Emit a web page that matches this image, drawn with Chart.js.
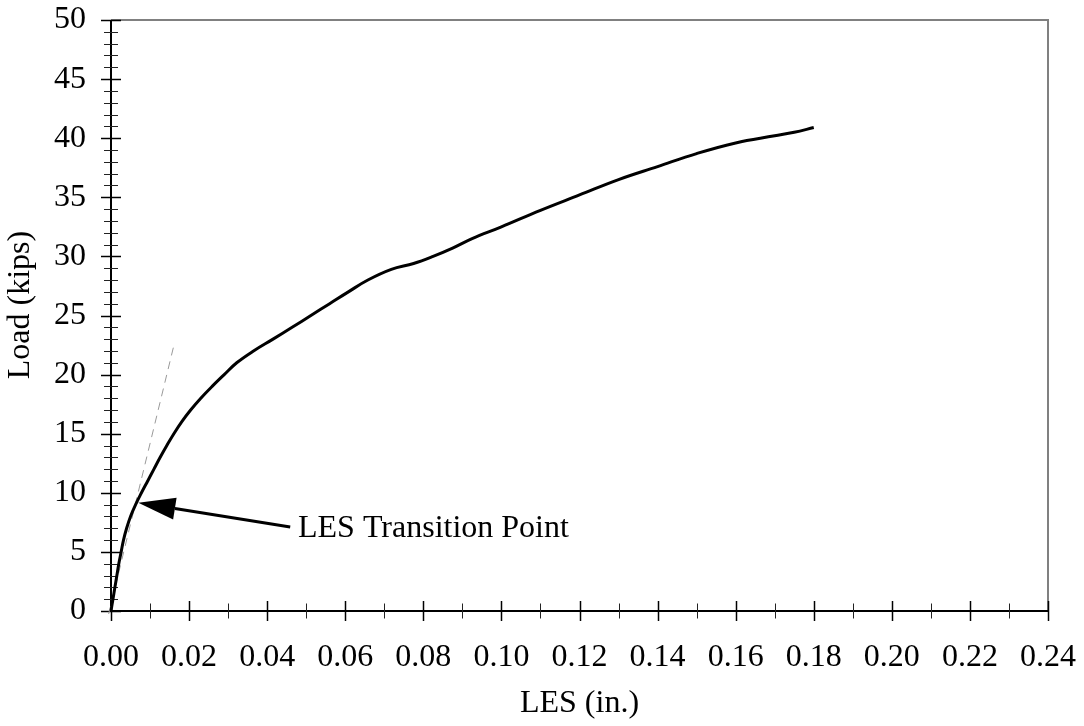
<!DOCTYPE html>
<html>
<head>
<meta charset="utf-8">
<script src="https://cdn.jsdelivr.net/npm/chart.js@4.4.1/dist/chart.umd.min.js"></script>
<style>
  html, body { margin: 0; padding: 0; background: #fff; }
  #wrap { width: 1084px; height: 726px; }
</style>
</head>
<body>
<div id="wrap"><canvas id="chart" width="1084" height="726"></canvas></div>
<script>
// ── Data ──────────────────────────────────────────────────────────────────────

// measured load–LES curve
const lesIn = [
  0, 0.0005, 0.0010, 0.0015, 0.0020, 0.0026, 0.0032, 0.0040, 0.0050, 0.0063,
  0.0078, 0.0094, 0.0110, 0.0126, 0.0143, 0.0161, 0.0181, 0.0204, 0.0230, 0.0259,
  0.0290, 0.0322, 0.0365, 0.0415, 0.0464, 0.0512, 0.0560, 0.0608, 0.0658, 0.0718,
  0.0775, 0.0825, 0.0875, 0.0925, 0.1000, 0.1100, 0.1200, 0.1300, 0.1400, 0.1500,
  0.1600, 0.1700, 0.1750, 0.1800
];
const loadKips = [
  0, 1, 2, 3, 4, 5, 6, 7, 8, 9,
  10, 11, 12, 13, 14, 15, 16, 17, 18, 19,
  20, 21, 22, 23, 24, 25, 26, 27, 28, 28.9,
  29.4, 30.0, 30.7, 31.5, 32.5, 33.9, 35.2, 36.5, 37.6, 38.7,
  39.6, 40.2, 40.5, 40.9
];

// initial elastic slope (dashed guide)
const elasticLes  = [-0.0006, 0.0162];
const elasticLoad = [-0.25, 22.6];

// axes
const xMin = 0, xMax = 0.24, xMajorStep = 0.02, xMinorStep = 0.01;
const yMin = 0, yMax = 50,   yMajorStep = 5,    yMinorStep = 1;

// annotation
const transitionTip   = { x: 0.0070, y: 9.16 };
const transitionTail  = { x: 0.0459, y: 7.1 };
const transitionLabel = { x: 0.0479, y: 6.26, text: 'LES Transition Point' };

const FONT = '"Liberation Serif", "Times New Roman", serif';
const FONT_SIZE = 32;

const toXY = (xs, ys) => xs.map((v, i) => ({ x: v, y: ys[i] }));

// ── Frame, ticks & annotation plugin ──────────────────────────────────────────

const frameTicks = {
  id: 'frameTicks',
  beforeDatasetsDraw(chart) {
    const { ctx, chartArea: a, scales: { x, y } } = chart;
    ctx.save();
    // top / right border
    ctx.strokeStyle = '#808080';
    ctx.lineWidth = 2;
    ctx.beginPath();
    ctx.moveTo(a.left, a.top);
    ctx.lineTo(a.right, a.top);
    ctx.lineTo(a.right, a.bottom);
    ctx.stroke();
    // axes
    ctx.strokeStyle = '#000';
    ctx.beginPath();
    ctx.moveTo(a.left, a.top);
    ctx.lineTo(a.left, a.bottom);
    ctx.lineTo(a.right, a.bottom);
    ctx.stroke();

    // y ticks (cross the axis)
    const yCount = Math.round((yMax - yMin) / yMinorStep);
    const yRatio = Math.round(yMajorStep / yMinorStep);
    for (let i = 0; i <= yCount; i++) {
      const py = Math.round(y.getPixelForValue(yMin + i * yMinorStep)) + 0.5;
      const major = i % yRatio === 0;
      const len = major ? 10 : 7;
      ctx.strokeStyle = major ? '#000' : '#222';
      ctx.lineWidth = major ? 1.5 : 1;
      ctx.beginPath();
      ctx.moveTo(a.left - len, py);
      ctx.lineTo(a.left + len, py);
      ctx.stroke();
    }
    // x ticks
    const xCount = Math.round((xMax - xMin) / xMinorStep);
    const xRatio = Math.round(xMajorStep / xMinorStep);
    for (let i = 0; i <= xCount; i++) {
      const px = Math.round(x.getPixelForValue(xMin + i * xMinorStep)) + 0.5;
      const major = i % xRatio === 0;
      const len = major ? 10 : 7.5;
      ctx.strokeStyle = major ? '#000' : '#222';
      ctx.lineWidth = major ? 1.5 : 1;
      ctx.beginPath();
      ctx.moveTo(px, a.bottom - len);
      ctx.lineTo(px, a.bottom + len);
      ctx.stroke();
    }

    // y axis title
    ctx.fillStyle = '#000';
    ctx.font = FONT_SIZE + 'px ' + FONT;
    ctx.textAlign = 'center';
    ctx.textBaseline = 'middle';
    ctx.translate(21, 305);
    ctx.rotate(-Math.PI / 2);
    ctx.fillText('Load (kips)', 0, 0);
    ctx.restore();
  },
  afterDatasetsDraw(chart) {
    const { ctx, scales: { x, y } } = chart;
    const tx = x.getPixelForValue(transitionTip.x),  ty = y.getPixelForValue(transitionTip.y);
    const sx = x.getPixelForValue(transitionTail.x), sy = y.getPixelForValue(transitionTail.y);
    const ang = Math.atan2(ty - sy, tx - sx);
    const headLen = 37, headHalf = 11;
    const bx = tx - headLen * Math.cos(ang), by = ty - headLen * Math.sin(ang);
    ctx.save();
    ctx.strokeStyle = '#000';
    ctx.fillStyle = '#000';
    ctx.lineWidth = 3;
    ctx.beginPath();
    ctx.moveTo(sx, sy);
    ctx.lineTo(bx, by);
    ctx.stroke();
    ctx.beginPath();
    ctx.moveTo(tx, ty);
    ctx.lineTo(bx + headHalf * Math.sin(ang), by - headHalf * Math.cos(ang));
    ctx.lineTo(bx - headHalf * Math.sin(ang), by + headHalf * Math.cos(ang));
    ctx.closePath();
    ctx.fill();

    ctx.font = FONT_SIZE + 'px ' + FONT;
    ctx.textAlign = 'left';
    ctx.textBaseline = 'alphabetic';
    ctx.fillText(transitionLabel.text,
      x.getPixelForValue(transitionLabel.x), y.getPixelForValue(transitionLabel.y));
    ctx.restore();
  }
};

// ── Chart ─────────────────────────────────────────────────────────────────────

new Chart(document.getElementById('chart'), {
  type: 'scatter',
  data: {
    datasets: [
      {
        label: 'Load',
        data: toXY(lesIn, loadKips),
        showLine: true,
        borderColor: '#000',
        borderWidth: 3,
        pointRadius: 0,
        tension: 0.4,
        clip: false
      },
      {
        label: 'Elastic',
        data: toXY(elasticLes, elasticLoad),
        showLine: true,
        borderColor: '#999',
        borderWidth: 1,
        borderDash: [8, 6],
        pointRadius: 0,
        clip: false
      }
    ]
  },
  options: {
    responsive: false,
    animation: false,
    devicePixelRatio: 1,
    layout: { padding: { top: 20, right: 36, left: 0, bottom: 0 } },
    plugins: { legend: { display: false }, tooltip: { enabled: false } },
    scales: {
      x: {
        type: 'linear',
        min: xMin,
        max: xMax,
        grid: { display: false, drawTicks: false },
        border: { display: false },
        ticks: {
          stepSize: xMajorStep,
          autoSkip: false,
          maxRotation: 0,
          padding: 27,
          color: '#000',
          font: { family: FONT, size: FONT_SIZE },
          callback: v => v.toFixed(2)
        },
        title: {
          display: true,
          text: 'LES (in.)',
          color: '#000',
          font: { family: FONT, size: FONT_SIZE },
          padding: { top: 0, bottom: 3 }
        },
        afterFit(scale) {
          scale.height = 115;
          scale.paddingLeft = 0;
          scale.paddingRight = 0;
        }
      },
      y: {
        type: 'linear',
        min: yMin,
        max: yMax,
        grid: { display: false, drawTicks: false },
        border: { display: false },
        ticks: {
          stepSize: yMajorStep,
          padding: 25,
          color: '#000',
          font: { family: FONT, size: FONT_SIZE }
        },
        afterFit(scale) {
          scale.width = 111;
          scale.paddingTop = 0;
          scale.paddingBottom = 0;
        }
      }
    }
  },
  plugins: [frameTicks]
});
</script>
</body>
</html>
